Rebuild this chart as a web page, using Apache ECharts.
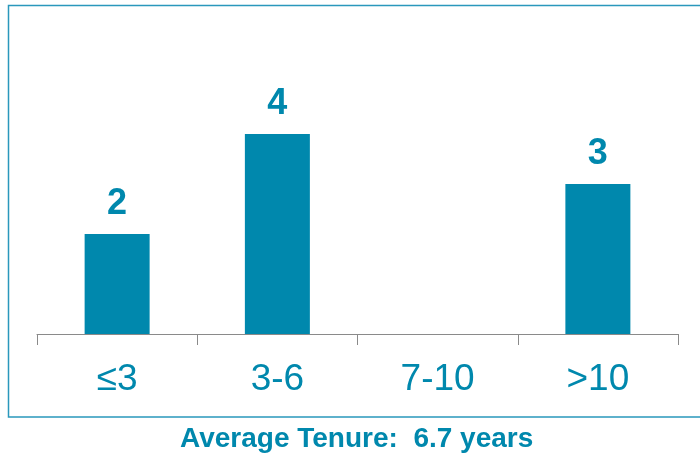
<!DOCTYPE html>
<html>
<head>
<meta charset="utf-8">
<script src="https://cdn.jsdelivr.net/npm/echarts@6/dist/echarts.min.js"></script>
<style>html,body{margin:0;padding:0;background:#fff}#c{width:700px;height:453px}</style>
</head>
<body>
<div id="c"></div>
<script>
const categories = ['≤3', '3-6', '7-10', '>10'];
const counts = [2, 4, null, 3];
const titleText = 'Average Tenure:  6.7 years';

const teal = '#0088AD';
const chart = echarts.init(document.getElementById('c'));
chart.setOption({
  animation: false,
  title: {
    text: titleText,
    left: 175,
    top: 420,
    textStyle: { fontFamily: 'Liberation Sans, Arial, sans-serif', fontSize: 28, fontWeight: 'bold', color: teal }
  },
  graphic: [{
    type: 'rect',
    shape: { x: 8.5, y: 5.5, width: 720, height: 411.5 },
    style: { fill: 'none', stroke: '#2A98BC', lineWidth: 1.5 },
    silent: true
  }],
  grid: { left: 37, right: 22, top: 34, bottom: 119 },
  xAxis: {
    type: 'category',
    data: categories,
    axisLine: { lineStyle: { color: '#8a8a8a', width: 1 } },
    axisTick: { show: true, length: 11, lineStyle: { color: '#8a8a8a' } },
    axisLabel: { color: teal, fontSize: 37, margin: 27, fontFamily: 'Liberation Sans, Arial, sans-serif' }
  },
  yAxis: { type: 'value', min: 0, max: 6, show: false, splitLine: { show: false } },
  series: [{
    type: 'bar',
    data: counts,
    barWidth: 65,
    itemStyle: { color: teal },
    label: {
      show: true,
      position: 'top',
      distance: 12,
      color: teal,
      fontSize: 36,
      fontWeight: 'bold',
      fontFamily: 'Liberation Sans, Arial, sans-serif'
    }
  }]
});
</script>
</body>
</html>
